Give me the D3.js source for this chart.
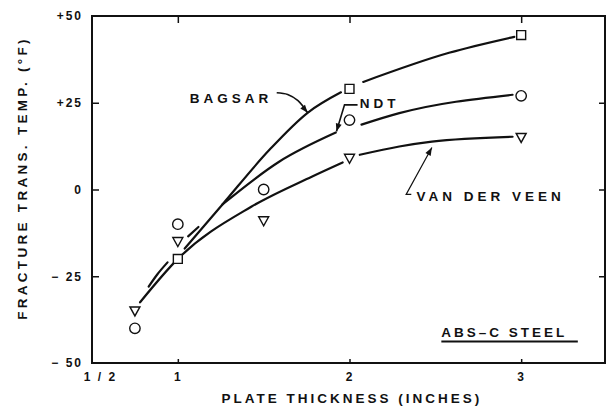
<!DOCTYPE html>
<html>
<head>
<meta charset="utf-8">
<script src="https://cdn.jsdelivr.net/npm/d3@7"></script>
<style>
  body { margin: 0; background: #fff; }
  text { font-family: "Liberation Sans", Arial, sans-serif; fill: #111; }
</style>
</head>
<body>
<div id="chart"></div>
<script>
// tick values / labels
const xTicks = [0.5, 1, 2, 3]
const xTickLabels = ['1 / 2', '1', '2', '3']
const yTicks = [50, 25, 0, -25, -50]
const yTickLabels = ['+50', '+25', '0', '\u2212 25', '\u2212 50']

// measured points (plate thickness, inches -> transition temp, F)
const bagsarX = [1, 2, 3]
const bagsarY = [-20, 29, 44.5]
const ndtX = [0.75, 1, 1.5, 2, 3]
const ndtY = [-40, -10, 0, 20, 27]
const vdvX = [0.75, 1, 1.5, 2, 3]
const vdvY = [-35, -15, -9, 9, 15]

// drawn curves, broken where they pass the symbols
const bagsarCurve = [
  [[1.04, -17], [1.26, -4.3], [1.535, 11.5], [1.756, 22.1], [1.95, 28]],
  [[2.08, 31], [2.58, 39.4], [2.96, 44]]
]
const ndtCurve = [
  [[0.83, -28], [0.88, -24.5], [0.94, -21]],
  [[1.06, -13.5], [1.12, -10.8]],
  [[1.26, -4.3], [1.59, 8], [1.92, 16.4]],
  [[2.07, 18.7], [2.29, 22], [2.95, 27.3]]
]
const vdvCurve = [
  [[0.78, -32.5], [1.0, -20], [1.43, -4.9], [1.78, 3.7], [1.96, 7.8]],
  [[2.06, 10], [2.29, 12.4], [2.48, 13.8], [2.95, 15.2]]
]

const width = 607
const height = 411
const margin = { top: 16, right: 1, bottom: 48, left: 92 }

let svg = d3.select('#chart').append('svg')
  .attr('width', width)
  .attr('height', height)

let x = d3.scaleLinear()
  .domain([0.5, 3.5])
  .range([margin.left, width - margin.right + 1])

let y = d3.scaleLinear()
  .domain([-50, 50])
  .range([height - margin.bottom, margin.top])

// frame
svg.append('rect')
  .attr('x', x(0.5))
  .attr('y', y(50))
  .attr('width', x(3.5) - x(0.5) - 2)
  .attr('height', y(-50) - y(50))
  .style('fill', 'none')
  .style('stroke', '#111')
  .style('stroke-width', 2)

// axes, ticks point inward
let fmtY = function (d) { return yTickLabels[yTicks.indexOf(d)] }
let fmtX = function (d) { return xTickLabels[xTicks.indexOf(d)] }

let yAxis = svg.append('g')
  .attr('transform', `translate(${x(0.5)},0)`)
  .call(d3.axisLeft(y).tickValues(yTicks).tickFormat(fmtY).tickSizeInner(-7).tickSizeOuter(0).tickPadding(9))
let yAxisR = svg.append('g')
  .attr('transform', `translate(${x(3.5) - 2},0)`)
  .call(d3.axisRight(y).tickValues([25, 0, -25]).tickFormat('').tickSizeInner(-6).tickSizeOuter(0))
let xAxis = svg.append('g')
  .attr('transform', `translate(0,${y(-50)})`)
  .call(d3.axisBottom(x).tickValues(xTicks).tickFormat(fmtX).tickSizeInner(-4).tickSizeOuter(0).tickPadding(9))
let xAxisT = svg.append('g')
  .attr('transform', `translate(0,${y(50)})`)
  .call(d3.axisTop(x).tickValues([1, 2, 3]).tickFormat('').tickSizeInner(-7).tickSizeOuter(0))

;[yAxis, yAxisR, xAxis, xAxisT].forEach(function (g) {
  g.select('.domain').remove()
  g.selectAll('line').style('stroke', '#111').style('stroke-width', 1.5)
  g.selectAll('text')
    .style('font-family', '"Liberation Sans", Arial, sans-serif')
    .style('font-size', '12px')
    .style('font-weight', 'bold')
    .style('letter-spacing', '2px')
    .style('fill', '#111')
})
xAxis.selectAll('.tick').filter(function (d) { return d === 0.5 })
  .select('text').attr('dx', 8)
xAxis.selectAll('.tick').filter(function (d) { return d === 0.5 }).select('line').remove()
yAxis.selectAll('.tick').filter(function (d) { return d === 50 || d === -50 }).select('line').remove()

// axis titles
svg.append('text')
  .attr('x', 352)
  .attr('y', 403)
  .attr('text-anchor', 'middle')
  .style('font-size', '13.5px')
  .style('font-weight', 'bold')
  .style('letter-spacing', '3px')
  .text('PLATE THICKNESS (INCHES)')

svg.append('text')
  .attr('transform', 'translate(27,178) rotate(-90)')
  .attr('text-anchor', 'middle')
  .style('font-size', '13.5px')
  .style('font-weight', 'bold')
  .style('letter-spacing', '3.3px')
  .text('FRACTURE TRANS. TEMP. (\u00b0F)')

// curves
let line = d3.line()
  .curve(d3.curveMonotoneX)
  .x(function (d) { return x(d[0]) })
  .y(function (d) { return y(d[1]) })

;[bagsarCurve, ndtCurve, vdvCurve].forEach(function (segs) {
  svg.append('g').selectAll('path')
    .data(segs)
    .enter()
    .append('path')
    .attr('d', line)
    .style('fill', 'none')
    .style('stroke', '#111')
    .style('stroke-width', 2.2)
    .style('stroke-linecap', 'round')
})

// symbols
let symSquare = d3.symbol().type(d3.symbolSquare).size(80)
let symCircle = d3.symbol().type(d3.symbolCircle).size(85)
let triPath = 'M-5,-4L5,-4L0,5Z'

function drawSymbols(xs, ys, pathFn) {
  svg.append('g').selectAll('path')
    .data(xs.map(function (d, i) { return [d, ys[i]] }))
    .enter()
    .append('path')
    .attr('transform', function (d) { return `translate(${x(d[0])},${y(d[1])})` })
    .attr('d', pathFn)
    .style('fill', '#fff')
    .style('stroke', '#111')
    .style('stroke-width', 1.4)
}
drawSymbols(bagsarX, bagsarY, symSquare)
drawSymbols(ndtX, ndtY, symCircle)
drawSymbols(vdvX, vdvY, triPath)

// labels + leaders
function label(txt, xv, yv) {
  return svg.append('text')
    .attr('x', x(xv))
    .attr('y', y(yv))
    .attr('dy', '0.36em')
    .style('font-size', '13.5px')
    .style('font-weight', 'bold')
    .style('letter-spacing', '4px')
    .text(txt)
}
label('BAGSAR', 1.07, 26.4)
label('NDT', 2.06, 25)
label('VAN DER VEEN', 2.39, -1.9)
label('ABS\u2013C STEEL', 2.535, -41).style('letter-spacing', '3px')

svg.append('line')
  .attr('x1', x(2.535)).attr('x2', x(3.33))
  .attr('y1', y(-43.8)).attr('y2', y(-43.8))
  .style('stroke', '#111').style('stroke-width', 2)

let lead = d3.line()
  .curve(d3.curveCatmullRom)
  .x(function (d) { return x(d[0]) })
  .y(function (d) { return y(d[1]) })
let leaders = [
  [[1.576, 27.9], [1.64, 27.4], [1.70, 25.6], [1.756, 22.1]],
  [[2.047, 24.4], [1.971, 24.4], [1.924, 16.7]],
  [[2.36, -1.4], [2.33, -1.4], [2.48, 12.1]]
]
leaders.forEach(function (pts, i) {
  let lf = i === 0 ? lead : d3.line().x(function (d) { return x(d[0]) }).y(function (d) { return y(d[1]) })
  svg.append('path')
    .attr('d', lf(pts))
    .style('fill', 'none')
    .style('stroke', '#111')
    .style('stroke-width', i === 2 ? 1.2 : 1.6)
  // arrowhead at last point
  let a = pts[pts.length - 2], b = pts[pts.length - 1]
  let ang = Math.atan2(y(b[1]) - y(a[1]), x(b[0]) - x(a[0])) * 180 / Math.PI
  svg.append('path')
    .attr('d', 'M0,0L-8,-3L-8,3Z')
    .attr('transform', `translate(${x(b[0])},${y(b[1])}) rotate(${ang})`)
    .style('fill', '#111')
})
</script>
</body>
</html>
